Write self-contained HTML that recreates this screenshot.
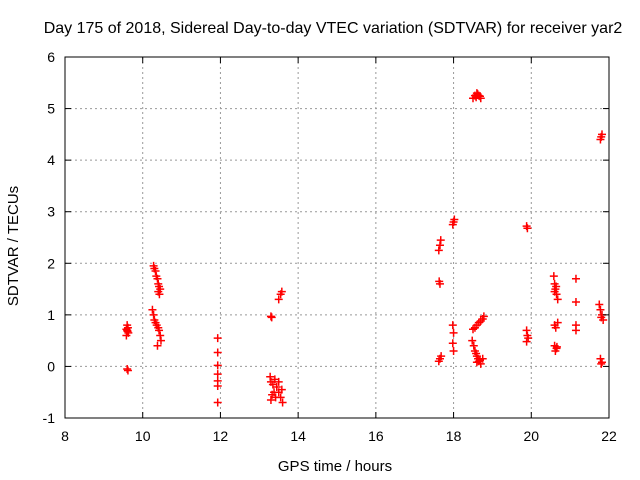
<!DOCTYPE html>
<html><head><meta charset="utf-8"><style>
body{margin:0;background:#fff;}
svg{display:block;font-family:"Liberation Sans",sans-serif;}
</style></head><body>
<svg id="chart" width="640" height="480">
<rect x="0" y="0" width="640" height="480" fill="#fff"/>
<g id="grid"></g>
<g id="pts"></g>
<rect x="65" y="57" width="544" height="361" fill="none" stroke="#000" stroke-width="1"/>
<g id="axes" font-size="14" fill="#000"></g>
<text x="333" y="33" text-anchor="middle" font-size="16">Day 175 of 2018, Sidereal Day-to-day VTEC variation (SDTVAR) for receiver yar2</text>
<text x="335" y="471" text-anchor="middle" font-size="15">GPS time / hours</text>
<text x="18" y="246" text-anchor="middle" font-size="15" transform="rotate(-90 18 246)">SDTVAR / TECUs</text>
</svg>
<script>
const xTicks=[8,10,12,14,16,18,20,22];
const yTicks=[-1,0,1,2,3,4,5,6];
const times=[9.58,9.6,9.62,9.6,9.63,9.58,9.61,9.6,9.62,
10.28,10.3,10.33,10.35,10.38,10.4,10.42,10.45,10.4,10.43,
10.25,10.28,10.3,10.33,10.36,10.4,10.42,10.45,10.47,10.38,
11.93,11.93,11.93,11.93,11.93,11.93,11.93,
13.3,13.32,13.28,13.3,13.35,13.4,13.45,13.5,13.55,13.6,13.33,13.42,13.5,13.58,13.3,13.38,
13.5,13.55,13.58,
17.62,17.65,17.67,17.63,17.65,17.62,17.65,17.68,
17.98,18.0,18.02,17.98,18.0,17.98,18.0,
18.5,18.55,18.6,18.65,18.7,18.58,18.62,18.68,
18.5,18.55,18.6,18.65,18.7,18.75,18.78,
18.48,18.52,18.55,18.58,18.6,18.63,18.65,18.7,18.75,18.6,18.68,
19.88,19.9,19.88,19.9,19.92,19.88,
20.58,20.6,20.62,20.65,20.68,20.6,20.64,20.6,20.63,20.68,20.6,20.65,20.62,20.66,
21.15,21.15,21.15,21.15,
21.78,21.8,21.82,21.75,21.78,21.82,21.8,21.85,21.78,21.82,21.8];
const values=[0.6,0.7,0.75,0.8,0.65,0.72,0.68,-0.05,-0.08,
1.95,1.9,1.85,1.75,1.7,1.6,1.55,1.5,1.45,1.4,
1.1,1.0,0.9,0.85,0.8,0.75,0.7,0.6,0.5,0.4,
0.55,0.27,0.02,-0.15,-0.28,-0.38,-0.7,
0.97,0.95,-0.2,-0.3,-0.35,-0.25,-0.4,-0.5,-0.6,-0.7,-0.55,-0.6,-0.3,-0.45,-0.65,-0.5,
1.3,1.4,1.45,
2.25,2.35,2.45,1.65,1.6,0.1,0.15,0.2,
2.75,2.8,2.85,0.8,0.65,0.45,0.3,
5.2,5.25,5.3,5.25,5.2,5.22,5.28,5.24,
0.72,0.75,0.8,0.85,0.88,0.92,0.97,
0.5,0.4,0.3,0.25,0.2,0.15,0.1,0.05,0.15,0.08,0.12,
2.72,2.68,0.7,0.6,0.55,0.48,
1.75,1.6,1.5,1.4,1.3,1.45,1.55,0.8,0.75,0.85,0.4,0.35,0.3,0.38,
1.7,1.25,0.8,0.7,
4.4,4.45,4.5,1.2,1.1,1.0,0.95,0.9,0.15,0.08,0.05];
const X0=65,X1=609,Y0=418,Y1=57;
const sx=t=>X0+(t-8)/(22-8)*(X1-X0);
const sy=v=>Y0-(v+1)/7*(Y0-Y1);
const NS="http://www.w3.org/2000/svg";
const grid=document.getElementById('grid'),axes=document.getElementById('axes'),pts=document.getElementById('pts');
function mk(tag,attrs,parent){const e=document.createElementNS(NS,tag);for(const k in attrs)e.setAttribute(k,attrs[k]);parent.appendChild(e);return e;}
xTicks.forEach(t=>{const x=sx(t);
 if(t>8&&t<22){const g=mk('line',{x1:x,x2:x,y1:Y1,y2:Y0,stroke:'#999','stroke-dasharray':'2,3'},grid);
 
 }
 mk('line',{x1:x,x2:x,y1:Y0,y2:Y0-6,stroke:'#000'},axes);
 mk('line',{x1:x,x2:x,y1:Y1,y2:Y1+6,stroke:'#000'},axes);
 const l=mk('text',{x:x,y:Y0+23,'text-anchor':'middle'},axes);l.textContent=t;
 
 });
yTicks.forEach(v=>{const y=sy(v);
 if(v>-1&&v<6){const g=mk('line',{x1:X0,x2:X1,y1:y,y2:y,stroke:'#999','stroke-dasharray':'2,3'},grid);
 
 }
 mk('line',{x1:X0,x2:X0+6,y1:y,y2:y,stroke:'#000'},axes);
 mk('line',{x1:X1,x2:X1-6,y1:y,y2:y,stroke:'#000'},axes);
 const l=mk('text',{x:X0-10,y:y+5,'text-anchor':'end'},axes);l.textContent=v;
 
 });
times.forEach((t,i)=>{const x=sx(t),y=sy(values[i]);
 const p=mk('path',{d:`M${x-4},${y}h8M${x},${y-4}v8`,stroke:'#f00','stroke-width':1.5},pts);
 
 });
</script>
</body></html>
